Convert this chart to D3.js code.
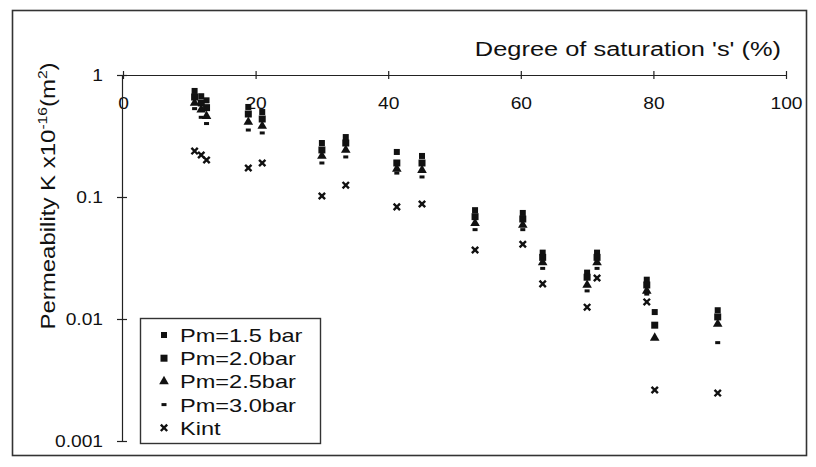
<!DOCTYPE html>
<html><head><meta charset="utf-8">
<script src="https://cdn.jsdelivr.net/npm/d3@7"></script>
<style>
body{margin:0;background:#fff}
text{font-family:"Liberation Sans",Arial,Helvetica,sans-serif;fill:#111}
</style>
</head><body>
<svg id="c" width="816" height="467"></svg>
<script>
// ---- data ----
const saturation = [10.8, 11.8, 12.6, 18.9, 21.0, 30.0, 33.6, 41.3, 45.1, 53.1, 60.3, 63.3, 70.0, 71.5, 79.0, 80.2, 89.7];
const pm15 = [0.74, 0.67, 0.62, 0.547, 0.497, 0.277, 0.31, 0.234, 0.217, 0.078, 0.074, 0.035, 0.024, 0.035, 0.021, 0.0114, 0.0118];
const pm20 = [0.66, 0.59, 0.54, 0.479, 0.436, 0.243, 0.277, 0.19, 0.19, 0.069, 0.066, 0.032, 0.022, 0.032, 0.019, 0.0089, 0.0104];
const pm25 = [0.59, 0.52, 0.46, 0.412, 0.382, 0.217, 0.243, 0.17, 0.166, 0.061, 0.059, 0.029, 0.019, 0.029, 0.017, 0.0070, 0.0091];
const pm30 = [0.53, 0.45, 0.40, 0.354, 0.335, 0.19, 0.213, 0.157, 0.146, 0.054, 0.054, 0.026, 0.017, 0.026, 0.016, null, 0.0064];
const kint = [0.238, 0.221, 0.201, 0.173, 0.19, 0.102, 0.125, 0.083, 0.0877, 0.0368, 0.041, 0.0194, 0.0125, 0.0217, 0.0138, 0.00262, 0.00247];
const xTicks = [0, 20, 40, 60, 80, 100];
const yTicks = [1, 0.1, 0.01, 0.001];
const yTickLabels = ["1", "0.1", "0.01", "0.001"];
const legendLabels = ["Pm=1.5 bar", "Pm=2.0bar", "Pm=2.5bar", "Pm=3.0bar", "Kint"];
const xTitle = "Degree of saturation 's' (%)";

// ---- drawing ----
const svg = d3.select("#c");
function stretch(f){
  return sel => sel.each(function(){
    const w = this.getComputedTextLength();
    if (w > 0) d3.select(this).attr("textLength", w*f).attr("lengthAdjust","spacingAndGlyphs");
  });
}

svg.append("rect").attr("x",0).attr("y",0).attr("width",816).attr("height",467).attr("fill","#fff");
// frame
svg.append("rect").attr("x",12.5).attr("y",10.5).attr("width",794).attr("height",445)
  .attr("fill","none").attr("stroke","#333").attr("stroke-width",1.6);

const x = d3.scaleLinear().domain([0,100]).range([123,786]);
const y = d3.scaleLog().domain([0.001,1]).range([441,75]);

// x axis (at top, value 1)
const gx = svg.append("g").attr("transform",`translate(0,${y(1)})`)
  .call(d3.axisBottom(x).tickValues(xTicks).tickSize(0).tickSizeOuter(0).tickFormat(d3.format("d")));
gx.select(".domain").attr("stroke","#222").attr("stroke-width",1.2);
gx.selectAll(".tick line").attr("y1",-4).attr("y2",4).attr("stroke","#222").attr("stroke-width",1.2);
gx.selectAll(".tick text").attr("y",34).attr("dy",null).attr("font-size",16).attr("fill","#111")
  .style("font-family",'"Liberation Sans",Arial,sans-serif').call(stretch(1.2));

// y axis
const gy = svg.append("g").attr("transform",`translate(${x(0)-1},0)`)
  .call(d3.axisLeft(y).tickValues(yTicks).tickSize(0).tickSizeOuter(0).tickFormat((d,i)=>yTickLabels[i]));
gy.select(".domain").attr("stroke","#222").attr("stroke-width",1.2);
gy.selectAll(".tick line").attr("x1",-5).attr("x2",5).attr("stroke","#222").attr("stroke-width",1.2);
gy.selectAll(".tick text").attr("x",-19).attr("dy","0.35em").attr("font-size",16).attr("fill","#111")
  .style("font-family",'"Liberation Sans",Arial,sans-serif').call(stretch(1.2));

// axis titles
svg.append("text").attr("x",781).attr("y",56).attr("text-anchor","end").attr("font-size",20)
  .text(xTitle).call(stretch(1.27));

const yl = svg.append("text").attr("transform","translate(55,196) rotate(-90) scale(1.2,1)")
  .attr("text-anchor","middle").attr("font-size",20);
yl.append("tspan").text("Permeability K x10");
yl.append("tspan").attr("font-size",13).attr("dy",-8).text("-16");
yl.append("tspan").attr("dy",8).text("(m");
yl.append("tspan").attr("font-size",13).attr("dy",-8).text("2");
yl.append("tspan").attr("dy",8).text(")");

// markers
const shapes = {
  pm15: (g,cx,cy)=>g.append("rect").attr("x",cx-3).attr("y",cy-3).attr("width",6).attr("height",6).attr("fill","#111"),
  pm20: (g,cx,cy)=>g.append("rect").attr("x",cx-3.5).attr("y",cy-3.5).attr("width",7).attr("height",7).attr("fill","#111"),
  pm25: (g,cx,cy)=>g.append("path").attr("d",d3.symbol(d3.symbolTriangle,40)()).attr("transform",`translate(${cx},${cy})`).attr("fill","#111"),
  pm30: (g,cx,cy)=>g.append("rect").attr("x",cx-2.5).attr("y",cy-1.5).attr("width",5).attr("height",3).attr("fill","#111"),
  kint: (g,cx,cy)=>g.append("path").attr("d",d3.symbol(d3.symbolTimes,28)()).attr("transform",`translate(${cx},${cy})`)
          .attr("fill","none").attr("stroke","#111").attr("stroke-width",2.4)
};
const series = [["pm15",pm15],["pm20",pm20],["pm25",pm25],["pm30",pm30],["kint",kint]];
const gm = svg.append("g");
series.forEach(([k,vals])=>{
  vals.forEach((v,i)=>{ if(v!=null) shapes[k](gm, x(saturation[i]), y(v)); });
});

// legend
const lg = svg.append("g");
lg.append("rect").attr("x",140.5).attr("y",318.5).attr("width",180).attr("height",125)
  .attr("fill","#fff").attr("stroke","#333").attr("stroke-width",1.4);
const keys = ["pm15","pm20","pm25","pm30","kint"];
legendLabels.forEach((lab,i)=>{
  const cy = 335 + i*23.2;
  shapes[keys[i]](lg,164,cy);
  lg.append("text").attr("x",180).attr("y",cy+7).attr("font-size",19).text(lab).call(stretch(1.24));
});
</script>
</body></html>
